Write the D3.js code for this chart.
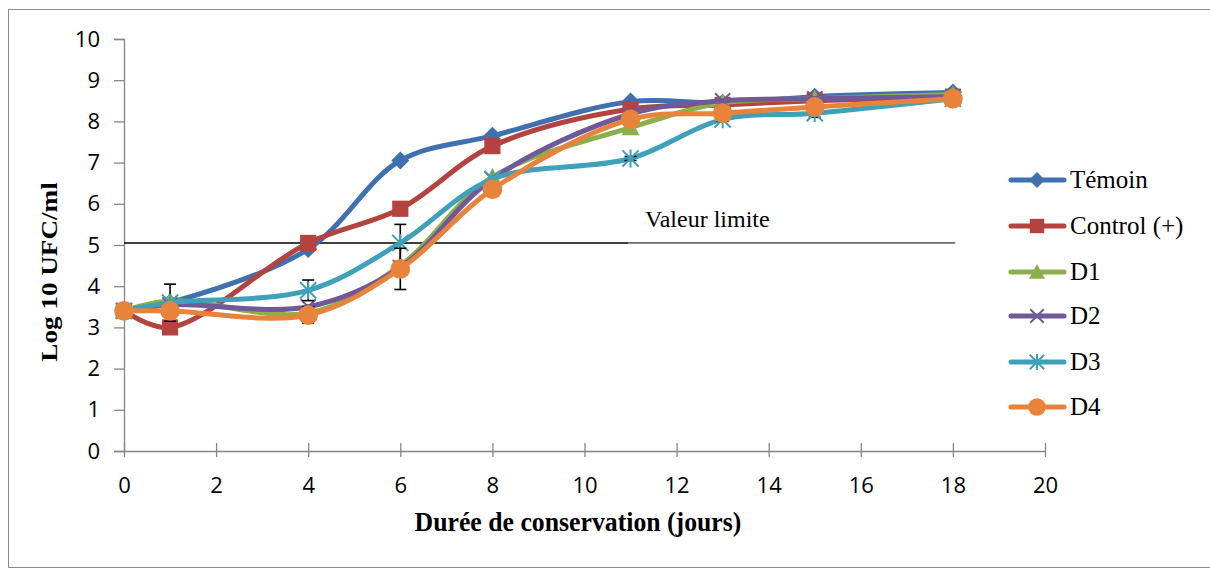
<!DOCTYPE html>
<html><head><meta charset="utf-8">
<script src="https://d3js.org/d3.v7.min.js"></script>
<style>body{margin:0;background:#fff}</style>
</head><body>
<script>
const days = [0, 1, 4, 6, 8, 11, 13, 15, 18];
const seriesNames = ["Témoin", "Control (+)", "D1", "D2", "D3", "D4"];
const temoin  = [3.4, 3.6, 4.9, 7.05, 7.65, 8.48, 8.45, 8.6, 8.7];
const control = [3.4, 3.0, 5.05, 5.88, 7.4, 8.3, 8.4, 8.5, 8.6];
const d1      = [3.4, 3.65, 3.35, 4.5, 6.65, 7.85, 8.45, 8.55, 8.65];
const d2      = [3.4, 3.55, 3.5, 4.45, 6.6, 8.18, 8.5, 8.55, 8.6];
const d3s     = [3.4, 3.6, 3.9, 5.05, 6.6, 7.1, 8.05, 8.2, 8.55];
const d4      = [3.4, 3.4, 3.3, 4.42, 6.35, 8.05, 8.2, 8.35, 8.55];
const errD3   = [0, 0.45, 0.25, 0.45, 0, 0.05, 0.05, 0.1, 0];
const errD4   = [0, 0, 0.2, 0.5, 0, 0, 0, 0, 0];
const limitValue = 5.05;
const limitLabel = "Valeur limite";
const xTicks = [0, 2, 4, 6, 8, 10, 12, 14, 16, 18, 20];
const yTicks = [0, 1, 2, 3, 4, 5, 6, 7, 8, 9, 10];
const xTitle = "Durée de conservation (jours)";
const yTitle = "Log 10 UFC/ml";

const colors = ["#3F70B0", "#B4423F", "#8CAF4C", "#705899", "#3FA0BA", "#E8833B"];
const symbols = ["diamond", "square", "triangle", "x", "asterisk", "circle"];
const values = [temoin, control, d1, d2, d3s, d4];
const errors = [null, null, null, null, errD3, errD4];

const W = 1210, H = 571;
const serif = "'Liberation Serif', 'Times New Roman', serif";
const sans = "'Open Sans', 'Liberation Sans', sans-serif";
const svg = d3.select("body").append("svg").attr("width", W).attr("height", H);
svg.append("rect").attr("x", 8.5).attr("y", 9.5).attr("width", 1210).attr("height", 558)
  .attr("fill", "#fff").attr("stroke", "#8c8c8c").attr("stroke-width", 1);

const x = d3.scaleLinear().domain([0, 20]).range([124, 1045]);
const y = d3.scaleLinear().domain([0, 10]).range([451, 39]);

const axisColor = "#868686";
// Y axis
const yAxis = svg.append("g").attr("transform", `translate(${x(0)},0)`)
  .call(d3.axisLeft(y).tickValues(yTicks).tickSize(10).tickPadding(14).tickFormat(d3.format("d")));
yAxis.select(".domain").attr("stroke", axisColor).attr("stroke-width", 1.3);
yAxis.selectAll(".tick line").attr("stroke", axisColor).attr("stroke-width", 1.3);
yAxis.selectAll("text").attr("font-family", sans).attr("font-size", 22).attr("fill", "#000");

// X axis
const xAxis = svg.append("g").attr("transform", `translate(0,${y(0)})`)
  .call(d3.axisBottom(x).tickValues(xTicks).tickSizeInner(6).tickSizeOuter(0).tickPadding(20).tickFormat(d3.format("d")));
xAxis.select(".domain").attr("stroke", axisColor).attr("stroke-width", 1.3);
xAxis.selectAll(".tick line").attr("stroke", axisColor).attr("stroke-width", 1.3).attr("y1", -8);
xAxis.selectAll("text").attr("font-family", sans).attr("font-size", 22).attr("fill", "#000")
  .attr("dy", null).attr("y", 42);

// Titles
svg.append("text").attr("x", 578).attr("y", 531).attr("text-anchor", "middle")
  .attr("font-family", serif).attr("font-weight", "bold").attr("font-size", 28)
  .attr("transform", "translate(578,0) scale(0.92,1) translate(-578,0)")
  .text(xTitle);
svg.append("text").attr("transform", "translate(57,272) rotate(-90) scale(1.18,1)").attr("text-anchor", "middle")
  .attr("font-family", serif).attr("font-weight", "bold").attr("font-size", 23)
  .text(yTitle);

// Limit line
svg.append("line").attr("x1", x(0)).attr("x2", x(10.95)).attr("y1", y(limitValue)).attr("y2", y(limitValue))
  .attr("stroke", "#000").attr("stroke-width", 1.6);
svg.append("line").attr("x1", x(10.95)).attr("x2", x(18.05)).attr("y1", y(limitValue)).attr("y2", y(limitValue))
  .attr("stroke", "#000").attr("stroke-width", 1);
svg.append("text").attr("x", 645).attr("y", 227)
  .attr("font-family", serif).attr("font-size", 24).text(limitLabel);

// Lines
const line = d3.line().x(d => x(d[0])).y(d => y(d[1])).curve(d3.curveCatmullRom.alpha(0.5));

function marker(g, type, color, size) {
  const s = size;
  if (type === "diamond") {
    g.append("path").attr("d", `M0,${-s/2}L${s/2},0L0,${s/2}L${-s/2},0Z`).attr("fill", color);
  } else if (type === "square") {
    g.append("rect").attr("x", -s*0.45).attr("y", -s*0.45).attr("width", s*0.9).attr("height", s*0.9).attr("fill", color);
  } else if (type === "triangle") {
    g.append("path").attr("d", `M0,${-s*0.5}L${s*0.5},${s*0.42}L${-s*0.5},${s*0.42}Z`).attr("fill", color);
  } else if (type === "x") {
    const r = s*0.42;
    g.append("path").attr("d", `M${-r},${-r}L${r},${r}M${-r},${r}L${r},${-r}`).attr("stroke", color).attr("stroke-width", 2);
  } else if (type === "asterisk") {
    const r = s*0.45;
    g.append("path").attr("d", `M${-r},${-r}L${r},${r}M${-r},${r}L${r},${-r}M0,${-r*1.1}L0,${r*1.1}`).attr("stroke", color).attr("stroke-width", 2);
  } else if (type === "circle") {
    g.append("circle").attr("r", s*0.52).attr("fill", color);
  }
}

values.forEach((vals, i) => {
  const pts = days.map((d, k) => [d, vals[k]]);
  svg.append("path").attr("d", line(pts)).attr("fill", "none")
    .attr("stroke", colors[i]).attr("stroke-width", 5).attr("stroke-linecap", "round").attr("stroke-linejoin", "round");
  const err = errors[i];
  if (err) {
    days.forEach((d, k) => {
      if (!err[k]) return;
      const g = svg.append("g").attr("stroke", "#000").attr("stroke-width", 1.6);
      g.append("line").attr("x1", x(d)).attr("x2", x(d)).attr("y1", y(vals[k] - err[k])).attr("y2", y(vals[k] + err[k]));
      [vals[k] - err[k], vals[k] + err[k]].forEach(v => {
        g.append("line").attr("x1", x(d) - 6).attr("x2", x(d) + 6).attr("y1", y(v)).attr("y2", y(v));
      });
    });
  }
  pts.forEach(p => {
    const g = svg.append("g").attr("transform", `translate(${x(p[0])},${y(p[1])})`);
    marker(g, symbols[i], colors[i], i === 5 ? 19 : 18);
  });
});

// Legend
const legend = svg.append("g");
const legY = [180, 226, 272, 316, 362, 407];
seriesNames.forEach((name, i) => {
  const g = legend.append("g").attr("transform", `translate(0,${legY[i]})`);
  g.append("line").attr("x1", 1011).attr("x2", 1064).attr("stroke", colors[i]).attr("stroke-width", 5).attr("stroke-linecap", "round");
  const m = g.append("g").attr("transform", "translate(1037,0)");
  marker(m, symbols[i], colors[i], i === 5 ? 17 : 16);
  g.append("text").attr("x", 1070).attr("y", 8).attr("font-family", serif)
    .attr("font-size", 25).text(name);
});
</script>
</body></html>
